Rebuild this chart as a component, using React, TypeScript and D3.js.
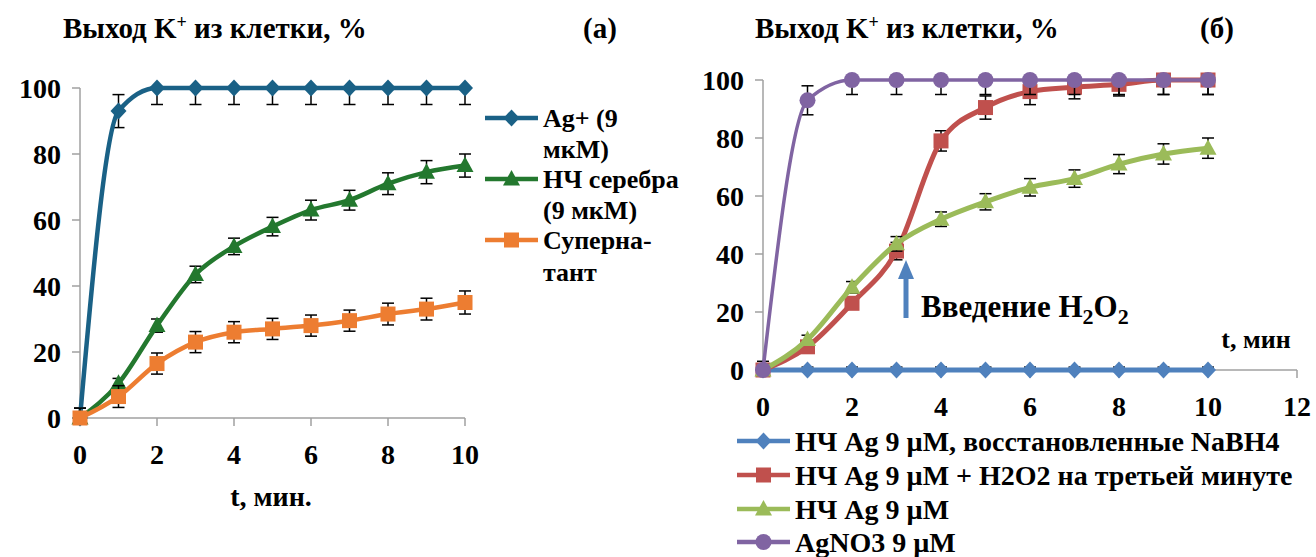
import React from 'react';
import * as d3 from 'd3';

// time points, minutes
const times = [0, 1, 2, 3, 4, 5, 6, 7, 8, 9, 10];

// panel (а)
const agIon = [0, 93, 100, 100, 100, 100, 100, 100, 100, 100, 100];
const agIonErr = [3, 5, 5, 5, 5, 5, 5, 5, 5, 5, 5];
const npSilver = [0, 10.5, 28, 43.5, 52, 58, 63, 66, 71, 74.5, 76.5];
const npSilverErr = [1, 1.5, 2, 2.5, 2.5, 2.8, 3, 3, 3.3, 3.5, 3.5];
const supernatant = [0, 6.5, 16.5, 23, 26, 27, 28, 29.5, 31.5, 33, 35];
const supernatantErr = [3, 3.3, 3.2, 3.2, 3.2, 3.2, 3.2, 3.2, 3.3, 3.3, 3.5];

// panel (б)
const npNaBH4 = [0, 0, 0, 0, 0, 0, 0, 0, 0, 0, 0];
const npNaBH4Err = [1, 1, 1, 1, 1, 1, 1, 1, 1, 1, 1];
const npH2O2 = [0, 8, 23, 41, 79, 90.5, 96, 97.5, 98.5, 100, 100];
const npH2O2Err = [1, 1.5, 2, 3, 3.5, 4, 4.5, 4, 4, 5, 5];
const npAg = [0, 10.5, 28.5, 43.5, 52, 58, 63, 66, 71, 74.5, 76.5];
const npAgErr = [1, 1.5, 2, 2.5, 2.5, 2.8, 3, 3, 3.3, 3.5, 3.5];
const agNO3 = [0, 93, 100, 100, 100, 100, 100, 100, 100, 100, 100];
const agNO3Err = [3, 5, 5, 5, 5, 5, 5, 5, 5, 5, 5];

const yTicks = [0, 20, 40, 60, 80, 100];
const xTicksA = [0, 2, 4, 6, 8, 10];
const xTicksB = [0, 2, 4, 6, 8, 10, 12];

const FONT = 'Liberation Serif';
const AXIS = '#a0a0a0';

type Series = {
  values: number[];
  err: number[];
  color: string;
  marker: 'diamond' | 'triangle' | 'square' | 'circle';
  width: number;
};

function Marker({ kind, x, y, color }: { kind: string; x: number; y: number; color: string }) {
  if (kind === 'diamond') {
    return <path d={`M${x},${y - 8.5}L${x + 8},${y}L${x},${y + 8.5}L${x - 8},${y}Z`} fill={color} />;
  }
  if (kind === 'triangle') {
    return <path d={`M${x},${y - 9}L${x + 8.5},${y + 6.5}L${x - 8.5},${y + 6.5}Z`} fill={color} />;
  }
  if (kind === 'square') {
    return <rect x={x - 7.5} y={y - 7.5} width={15} height={15} fill={color} />;
  }
  return <circle cx={x} cy={y} r={8} fill={color} />;
}

function Panel({
  series,
  x,
  y,
  xTicks,
}: {
  series: Series[];
  x: d3.ScaleLinear<number, number>;
  y: d3.ScaleLinear<number, number>;
  xTicks: number[];
}) {
  const [x0, x1] = x.range();
  const [y0, y1] = y.range();
  const line = d3
    .line<number>()
    .x((_, i) => x(times[i]))
    .y((d) => y(d))
    .curve(d3.curveMonotoneX);

  return (
    <g>
      {/* axes */}
      <line x1={x0} x2={x0} y1={y0} y2={y1} stroke={AXIS} strokeWidth={1.5} />
      <line x1={x0} x2={x1} y1={y0} y2={y0} stroke={AXIS} strokeWidth={1.5} />
      {yTicks.map((t) => (
        <g key={'y' + t}>
          <line x1={x0 - 8} x2={x0} y1={y(t)} y2={y(t)} stroke={AXIS} strokeWidth={1.5} />
          <text x={x0 - 19} y={y(t)} dy="0.35em" textAnchor="end" fontSize={28} fontWeight="bold" fontFamily={FONT}>
            {t}
          </text>
        </g>
      ))}
      {xTicks.map((t) => (
        <g key={'x' + t}>
          <line x1={x(t)} x2={x(t)} y1={y0} y2={y0 + 8} stroke={AXIS} strokeWidth={1.5} />
          <text x={x(t)} y={y0 + 46} textAnchor="middle" fontSize={28} fontWeight="bold" fontFamily={FONT}>
            {t}
          </text>
        </g>
      ))}

      {series.map((s, k) => (
        <g key={k}>
          {/* error bars */}
          {s.values.map((v, i) => {
            const hi = Math.min(100, v + s.err[i]);
            const lo = Math.max(0, v - s.err[i]);
            const cx = x(times[i]);
            return (
              <g key={i} stroke="#000" strokeWidth={1.5}>
                <line x1={cx} x2={cx} y1={y(hi)} y2={y(lo)} />
                {v < 100 ? <line x1={cx - 6} x2={cx + 6} y1={y(hi)} y2={y(hi)} /> : null}
                <line x1={cx - 6} x2={cx + 6} y1={y(lo)} y2={y(lo)} />
              </g>
            );
          })}
          <path d={line(s.values) || ''} fill="none" stroke={s.color} strokeWidth={s.width} />
          {s.values.map((v, i) => (
            <Marker key={i} kind={s.marker} x={x(times[i])} y={y(v)} color={s.color} />
          ))}
        </g>
      ))}
    </g>
  );
}

function LegendItem({
  x,
  y,
  s,
  label,
  size,
  gap,
  len,
}: {
  x: number;
  y: number;
  s: Series;
  label: string[];
  size: number;
  gap: number;
  len: number;
}) {
  return (
    <g>
      <line x1={x} x2={x + len} y1={y} y2={y} stroke={s.color} strokeWidth={4.5} />
      <Marker kind={s.marker} x={x + len / 2} y={y} color={s.color} />
      {label.map((l, i) => (
        <text key={i} x={x + len + 5} y={y + i * gap} dy="0.35em" fontSize={size} fontWeight="bold" fontFamily={FONT}>
          {l}
        </text>
      ))}
    </g>
  );
}

function Title({ x }: { x: number }) {
  return (
    <text x={x} y={38} fontSize={29} fontWeight="bold" fontFamily={FONT}>
      Выход K<tspan dy={-10} fontSize={18}>+</tspan>
      <tspan dy={10}> из клетки, %</tspan>
    </text>
  );
}

export default function App() {
  const xa = d3.scaleLinear().domain([0, 10]).range([80, 465]);
  const ya = d3.scaleLinear().domain([0, 100]).range([418, 88]);
  const xb = d3.scaleLinear().domain([0, 12]).range([763, 1297]);
  const yb = d3.scaleLinear().domain([0, 100]).range([370, 80]);

  const sAg: Series = { values: agIon, err: agIonErr, color: '#1a6186', marker: 'diamond', width: 4.5 };
  const sNp: Series = { values: npSilver, err: npSilverErr, color: '#23782e', marker: 'triangle', width: 4.5 };
  const sSup: Series = { values: supernatant, err: supernatantErr, color: '#ed7d31', marker: 'square', width: 4.5 };

  const sB1: Series = { values: npNaBH4, err: npNaBH4Err, color: '#4f81bd', marker: 'diamond', width: 5 };
  const sB2: Series = { values: npH2O2, err: npH2O2Err, color: '#c0504d', marker: 'square', width: 5 };
  const sB3: Series = { values: npAg, err: npAgErr, color: '#9bbb59', marker: 'triangle', width: 5 };
  const sB4: Series = { values: agNO3, err: agNO3Err, color: '#8064a2', marker: 'circle', width: 3.5 };

  const arrowX = 906;

  return (
    <svg width={1316} height={557} style={{ position: 'absolute', left: 0, top: 0, background: '#fff' }}>
      {/* panel (а) */}
      <Title x={63} />
      <text x={600} y={38} textAnchor="middle" fontSize={29} fontWeight="bold" fontFamily={FONT}>
        (а)
      </text>
      <Panel series={[sAg, sNp, sSup]} x={xa} y={ya} xTicks={xTicksA} />
      <text x={271} y={506} textAnchor="middle" fontSize={28} fontWeight="bold" fontFamily={FONT}>
        t, мин.
      </text>
      <LegendItem x={485} y={118} s={sAg} label={['Ag+ (9', 'мкМ)']} size={26} gap={31} len={53} />
      <LegendItem x={485} y={179} s={sNp} label={['НЧ серебра', '(9 мкМ)']} size={26} gap={31} len={53} />
      <LegendItem x={485} y={240} s={sSup} label={['Суперна-', 'тант']} size={26} gap={32} len={53} />

      {/* panel (б) */}
      <Title x={755} />
      <text x={1217} y={38} textAnchor="middle" fontSize={29} fontWeight="bold" fontFamily={FONT}>
        (б)
      </text>
      <Panel series={[sB1, sB2, sB3, sB4]} x={xb} y={yb} xTicks={xTicksB} />
      <text x={1256} y={348} textAnchor="middle" fontSize={26} fontWeight="bold" fontFamily={FONT}>
        t, мин
      </text>
      {/* H2O2 arrow */}
      <line x1={arrowX} x2={arrowX} y1={318} y2={276} stroke="#4f81bd" strokeWidth={5} />
      <path d={`M${arrowX - 8},${279}L${arrowX + 8},${279}L${arrowX},${260}Z`} fill="#4f81bd" />
      <text x={921} y={317} fontSize={31} fontWeight="bold" fontFamily={FONT}>
        Введение H<tspan dy={7} fontSize={22}>2</tspan>
        <tspan dy={-7}>O</tspan>
        <tspan dy={7} fontSize={22}>2</tspan>
      </text>
      <LegendItem x={737} y={441} s={sB1} label={['НЧ Ag 9 µM, восстановленные NaBH4']} size={28} gap={0} len={53} />
      <LegendItem x={737} y={475} s={sB2} label={['НЧ Ag 9 µM + H2O2 на третьей минуте']} size={28} gap={0} len={53} />
      <LegendItem x={737} y={509} s={sB3} label={['НЧ Ag 9 µM']} size={28} gap={0} len={53} />
      <LegendItem x={737} y={542} s={sB4} label={['AgNO3 9 µM']} size={28} gap={0} len={53} />
    </svg>
  );
}
